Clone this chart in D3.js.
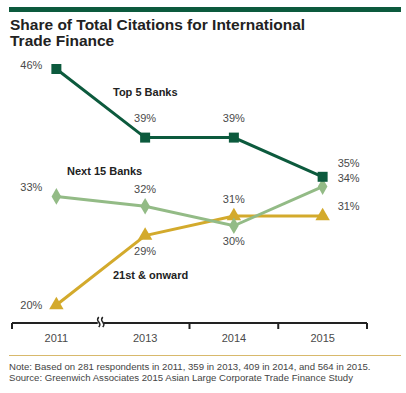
<!DOCTYPE html>
<html>
<head>
<meta charset="utf-8">
<script src="https://cdn.jsdelivr.net/npm/d3@7"></script>
<style>
  body { margin: 0; background: #fff; }
  svg { display: block; font-family: "Liberation Sans", Arial, sans-serif; }
</style>
</head>
<body>
<div id="chart"></div>
<script>
const years = ["2011", "2013", "2014", "2015"];
const top5 = [46, 39, 39, 35];
const next15 = [33, 32, 30, 34];
const rest = [20, 29, 31, 31];

const width = 406, height = 393;

const svg = d3.select("#chart")
    .append("svg")
    .attr("width", width)
    .attr("height", height);

// header bar + title
svg.append("rect")
    .attr("x", 9).attr("y", 7)
    .attr("width", 392).attr("height", 5)
    .attr("fill", "#0c5a3d");

const title = svg.append("text")
    .attr("x", 10)
    .attr("font-size", 15.5)
    .attr("font-weight", "bold")
    .attr("fill", "#222");
title.append("tspan").attr("x", 10).attr("y", 29.5).text("Share of Total Citations for International");
title.append("tspan").attr("x", 10).attr("y", 45.5).text("Trade Finance");

const x = d3.scaleBand()
    .domain(years)
    .range([12, 367]);
const cx = d => x(d) + x.bandwidth() / 2;

// 2011 sits below a break, so the scale has a kink at 29
const y = d3.scaleLinear()
    .domain([20, 29, 46])
    .range([305, 235.6, 69]);

const axisY = 323;

const series = [
    { name: "21st & onward", values: rest, color: "#d3aa2c", symbol: d3.symbolTriangle, size: 90,
      labelX: 113, labelY: 279,
      pos: ["left", "below", "above", "right"], dyRight: -6 },
    { name: "Next 15 Banks", values: next15, color: "#93bb86", symbol: d3.symbolDiamond, size: 80,
      labelX: 67, labelY: 175,
      pos: ["left", "above", "below", "right"], dyRight: -5 },
    { name: "Top 5 Banks", values: top5, color: "#0c5a3d", symbol: d3.symbolSquare, size: 100,
      labelX: 113, labelY: 96,
      pos: ["left", "above", "above", "right"], dyRight: -10 }
];

const line = d3.line()
    .x(d => cx(d.year))
    .y(d => y(d.value));

series.forEach(s => {
    const pts = years.map((yr, i) => ({ year: yr, value: s.values[i], pos: s.pos[i] }));

    svg.append("path")
        .datum(pts)
        .attr("d", line)
        .attr("fill", "none")
        .attr("stroke", s.color)
        .attr("stroke-width", 3);

    svg.selectAll(null)
        .data(pts)
        .enter()
        .append("path")
        .attr("transform", d => `translate(${cx(d.year)},${y(d.value)})`)
        .attr("d", d3.symbol().type(s.symbol).size(s.size))
        .attr("fill", s.color);

    svg.selectAll(null)
        .data(pts)
        .enter()
        .append("text")
        .attr("font-size", 11)
        .attr("fill", "#4a4a4a")
        .attr("text-anchor", d => d.pos === "left" ? "end" : d.pos === "right" ? "start" : "middle")
        .attr("x", d => d.pos === "left" ? cx(d.year) - 14 : d.pos === "right" ? cx(d.year) + 15 : cx(d.year))
        .attr("y", d => {
            const py = y(d.value);
            if (d.pos === "left") return py + (s.values === rest ? 4 : s.values === top5 ? 0 : -5);
            if (d.pos === "above") return py - (s.values === top5 ? 16 : 13);
            if (d.pos === "below") return py + 19;
            return py + s.dyRight;
        })
        .text(d => d.value + "%");

    svg.append("text")
        .attr("x", s.labelX)
        .attr("y", s.labelY)
        .attr("font-size", 11)
        .attr("font-weight", "bold")
        .attr("fill", "#222")
        .text(s.name);
});

// x axis
const xAxis = d3.axisBottom(x)
    .tickSizeInner(0)
    .tickSizeOuter(0)
    .tickPadding(11);

const gx = svg.append("g")
    .attr("transform", `translate(0,${axisY})`)
    .call(xAxis);
gx.select(".domain").remove();
gx.selectAll("text")
    .attr("font-size", 11)
    .attr("font-family", "Liberation Sans, Arial, sans-serif")
    .attr("fill", "#4a4a4a");

svg.append("line")
    .attr("x1", 12).attr("x2", 367)
    .attr("y1", axisY).attr("y2", axisY)
    .attr("stroke", "#222")
    .attr("stroke-width", 2);

const tickXs = [x.range()[0], x("2014"), x("2015"), x.range()[1]];
svg.selectAll(".btick")
    .data(tickXs)
    .enter()
    .append("line")
    .attr("class", "btick")
    .attr("x1", d => d).attr("x2", d => d)
    .attr("y1", axisY).attr("y2", axisY + 6)
    .attr("stroke", "#222")
    .attr("stroke-width", 2);

// axis break between 2011 and 2013
const bx = x("2013");
svg.append("rect")
    .attr("x", bx - 3).attr("y", axisY - 2)
    .attr("width", 6).attr("height", 4)
    .attr("fill", "#fff");
[-2, 2].forEach(off => {
    svg.append("path")
        .attr("d", `M${bx + off},${axisY - 6} q-2.2,2.5 0,5 q2.2,2.5 0,5`)
        .attr("fill", "none")
        .attr("stroke", "#222")
        .attr("stroke-width", 1.5);
});

// footer
svg.append("line")
    .attr("x1", 9).attr("x2", 401)
    .attr("y1", 355.5).attr("y2", 355.5)
    .attr("stroke", "#d8b96c")
    .attr("stroke-width", 1);

const notes = [
    "Note: Based on 281 respondents in 2011, 359 in 2013, 409 in 2014, and 564 in 2015.",
    "Source: Greenwich Associates 2015 Asian Large Corporate Trade Finance Study"
];
svg.selectAll(".note")
    .data(notes)
    .enter()
    .append("text")
    .attr("class", "note")
    .attr("x", 9)
    .attr("y", (d, i) => 370 + i * 11)
    .attr("font-size", 9.6)
    .attr("fill", "#444")
    .text(d => d);
</script>
</body>
</html>
